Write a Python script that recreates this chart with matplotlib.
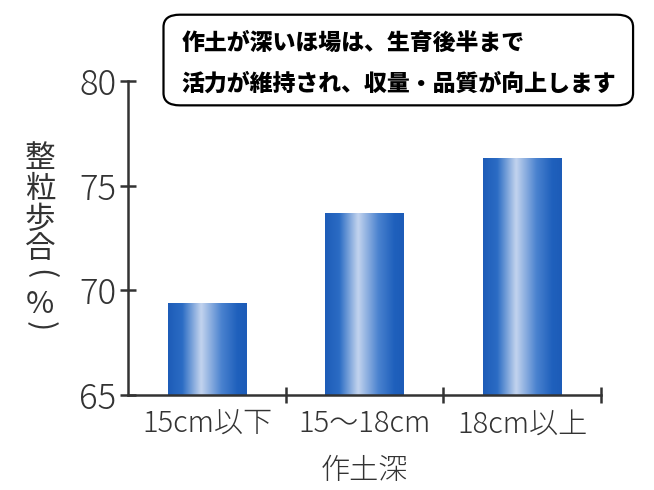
import numpy as np
import matplotlib
matplotlib.use('Agg')
import matplotlib.pyplot as plt
from matplotlib.patches import FancyBboxPatch
from matplotlib.colors import LinearSegmentedColormap

plt.rcParams['font.family'] = ['Noto Sans CJK JP', 'DejaVu Sans']

# データ
categories = ['15cm以下', '15～18cm', '18cm以上']
values = [69.4, 73.7, 76.3]
yticks = [65, 70, 75, 80]
ylabel_chars = ['整', '粒', '歩', '合', '(', '%', ')']
xlabel = '作土深'
note_lines = ['作土が深いほ場は、生育後半まで', '活力が維持され、収量・品質が向上します']

fig = plt.figure(figsize=(6.54, 4.9), dpi=100)
ax = fig.add_axes([0.196, 0.194, 0.723, 0.641])

x = np.arange(len(categories))
bars = ax.bar(x, [v - 65 for v in values], bottom=65, width=0.5,
              facecolor='none', edgecolor='none')

# 横方向グラデーション
cmap = LinearSegmentedColormap.from_list(
    'bar', [(0, '#1d5cb8'), (0.18, '#2b6cc4'), (0.42, '#c3d4ee'),
            (0.68, '#4a82cf'), (0.88, '#1f60bc'), (1, '#1d5cb8')])
grad = np.linspace(0, 1, 256).reshape(1, -1)
for b in bars:
    x0 = b.get_x()
    im = ax.imshow(grad, cmap=cmap, aspect='auto', interpolation='bicubic',
                   extent=[x0, x0 + b.get_width(), 65, 65 + b.get_height()],
                   zorder=2)
    im.set_clip_path(b)

ax.set_xlim(-0.5, 2.5)
ax.set_ylim(65, 80)
ax.set_yticks(yticks)
ax.set_xticks(x)
ax.set_xticklabels(categories)
ax.set_xticks([0.5, 1.5, 2.5], minor=True)

ax.spines['top'].set_visible(False)
ax.spines['right'].set_visible(False)
for s in ['left', 'bottom']:
    ax.spines[s].set_color('#333333')
    ax.spines[s].set_linewidth(1.8)

ax.tick_params(axis='y', direction='inout', length=11, width=1.8, color='#333333',
               labelsize=25, labelcolor='#333333', pad=3)
ax.tick_params(axis='x', which='major', length=0, labelsize=21,
               labelcolor='#333333', pad=10)
ax.tick_params(axis='x', which='minor', direction='inout', length=11,
               width=1.8, color='#333333')
for lab in ax.get_yticklabels() + ax.get_xticklabels():
    lab.set_fontweight('light')

ax.set_xlabel(xlabel, fontsize=21, color='#333333', labelpad=12,
              fontweight='light')

# 縦書きの軸ラベル（括弧だけ横に倒す）
ypos = [0.676, 0.613, 0.551, 0.490, 0.440, 0.378, 0.334]
for ch, yy in zip(ylabel_chars, ypos):
    rot = -90 if ch in '()' else 0
    fig.text(0.061, yy, ch, fontsize=22, color='#333333', ha='center',
             va='center', rotation=rot)

# 吹き出し
box = FancyBboxPatch((0.250, 0.785), 0.718, 0.185,
                     boxstyle='round,pad=0,rounding_size=0.025',
                     transform=fig.transFigure, facecolor='white',
                     edgecolor='black', linewidth=1.6, zorder=5)
fig.patches.append(box)
fig.text(0.278, 0.912, note_lines[0], fontsize=16.5, fontweight='heavy',
         ha='left', va='center', zorder=6)
fig.text(0.278, 0.828, note_lines[1], fontsize=16.5, fontweight='heavy',
         ha='left', va='center', zorder=6)

fig.savefig('out.png', dpi=100)
